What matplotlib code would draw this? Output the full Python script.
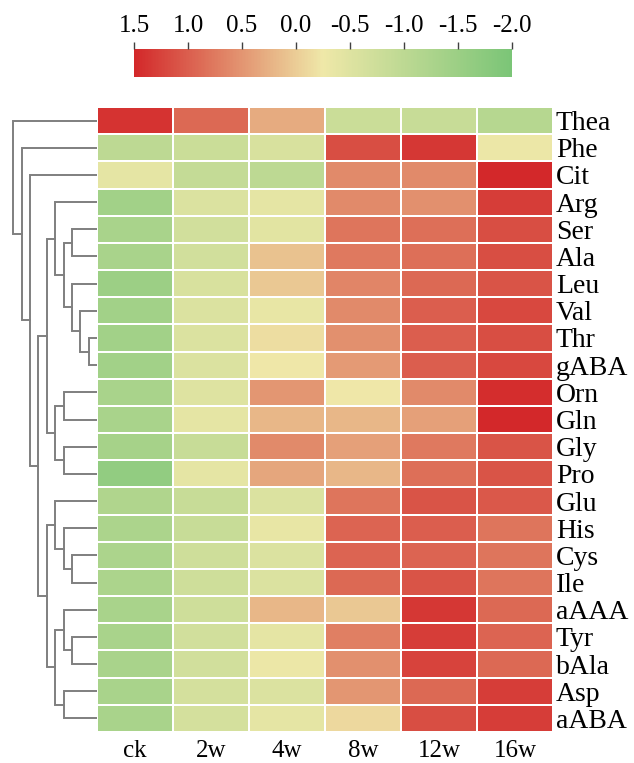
import matplotlib
matplotlib.use('Agg')
import matplotlib.pyplot as plt
import numpy as np
from matplotlib.colors import LinearSegmentedColormap, Normalize
from matplotlib.cm import ScalarMappable

plt.rcParams['font.family'] = ['Liberation Serif', 'DejaVu Serif']

rows = ['Thea', 'Phe', 'Cit', 'Arg', 'Ser', 'Ala', 'Leu', 'Val', 'Thr', 'gABA',
        'Orn', 'Gln', 'Gly', 'Pro', 'Glu', 'His', 'Cys', 'Ile', 'aAAA', 'Tyr',
        'bAla', 'Asp', 'aABA']
cols = ['ck', '2w', '4w', '8w', '12w', '16w']

# z-scores, one list per column
ck  = [1.40, -1.00, -0.40, -1.40, -1.30, -1.30, -1.50, -1.40, -1.40, -1.40,
       -1.30, -1.30, -1.35, -1.65, -1.20, -1.25, -1.25, -1.25, -1.30, -1.30,
       -1.30, -1.30, -1.30]
w2  = [0.90, -0.80, -0.90, -0.55, -0.70, -0.70, -0.60, -0.55, -0.55, -0.55,
       -0.50, -0.40, -0.85, -0.40, -0.85, -0.85, -0.75, -0.75, -0.75, -0.70,
       -0.70, -0.65, -0.65]
w4  = [0.30, -0.60, -1.00, -0.40, -0.45, 0.10, 0.05, -0.35, -0.15, -0.25,
       0.50, 0.20, 0.60, 0.35, -0.55, -0.35, -0.55, -0.55, 0.20, -0.40,
       -0.30, -0.55, -0.40]
w8  = [-0.80, 1.15, 0.60, 0.60, 0.80, 0.75, 0.65, 0.60, 0.55, 0.45,
       -0.25, 0.20, 0.40, 0.20, 0.80, 0.95, 0.95, 0.90, 0.05, 0.70,
       0.55, 0.50, -0.10]
w12 = [-0.85, 1.35, 0.60, 0.55, 0.85, 0.85, 0.90, 1.00, 1.00, 1.00,
       0.60, 0.40, 0.75, 0.85, 1.10, 1.00, 0.95, 1.10, 1.35, 1.30,
       1.25, 0.90, 1.15]
w16 = [-1.10, -0.30, 1.50, 1.30, 1.15, 1.15, 1.10, 1.20, 1.15, 1.20,
       1.45, 1.50, 1.10, 1.10, 1.05, 0.80, 0.80, 0.80, 0.90, 0.95,
       0.90, 1.30, 1.30]

# row dendrogram: (left, right, height); leaves 0..22, new nodes from 23
links = [
    (8, 9, 1), (7, 23, 2), (6, 24, 3), (4, 5, 3), (26, 25, 4), (3, 27, 5),
    (10, 11, 4), (12, 13, 4), (29, 30, 5), (28, 31, 6),
    (16, 17, 3), (15, 33, 4), (14, 34, 5), (19, 20, 3), (18, 36, 4),
    (21, 22, 4), (37, 38, 5), (35, 39, 6), (32, 40, 7), (2, 41, 8),
    (1, 42, 9), (0, 43, 10),
]

data = np.array([ck, w2, w4, w8, w12, w16]).T
n_rows = len(rows)

cmap = LinearSegmentedColormap.from_list(
    'rg', ['#7bc577', '#efe8a8', '#d3282a'])
norm = Normalize(vmin=-2.0, vmax=1.5)

W, H = 634, 763
fig = plt.figure(figsize=(W / 100, H / 100), dpi=100)

def px_axes(x0, y0, x1, y1):
    return fig.add_axes([x0 / W, 1 - y1 / H, (x1 - x0) / W, (y1 - y0) / H])

# heatmap
ax = px_axes(97, 107, 553, 732)
ax.pcolormesh(np.arange(len(cols) + 1), np.arange(n_rows + 1), data,
              cmap=cmap, norm=norm, edgecolors='white', linewidth=1.2)
ax.set_ylim(n_rows, 0)
ax.set_xlim(0, len(cols))
ax.set_xticks(np.arange(len(cols)) + 0.5)
ax.set_xticklabels(cols, fontsize=18)
ax.yaxis.tick_right()
ax.set_yticks(np.arange(n_rows) + 0.5)
ax.set_yticklabels(rows, fontsize=20)
ax.tick_params(length=0, pad=2)
ax.tick_params(axis='x', pad=6)
for s in ax.spines.values():
    s.set_visible(False)

# dendrogram
dax = px_axes(0, 107, 97, 732)
pos = {i: i + 0.5 for i in range(n_rows)}
hgt = {i: 0 for i in range(n_rows)}
for k, (a, b, h) in enumerate(links):
    node = n_rows + k
    dax.plot([hgt[a], h, h, hgt[b]], [pos[a], pos[a], pos[b], pos[b]],
             color='#7f7f7f', linewidth=1.4, solid_joinstyle='miter')
    pos[node] = (pos[a] + pos[b]) / 2
    hgt[node] = h
dax.set_xlim(11.59, 0)
dax.set_ylim(n_rows, 0)
dax.axis('off')

# colorbar
cax = px_axes(134.3, 49.3, 511.5, 76.7)
cb = fig.colorbar(ScalarMappable(norm=norm, cmap=cmap), cax=cax,
                  orientation='horizontal')
cax.invert_xaxis()
cb.set_ticks([1.5, 1.0, 0.5, 0.0, -0.5, -1.0, -1.5, -2.0])
cb.set_ticklabels(['1.5', '1.0', '0.5', '0.0', '-0.5', '-1.0', '-1.5', '-2.0'])
cax.xaxis.set_ticks_position('top')
cax.tick_params(length=5, width=1, color='#404040', labelsize=18, pad=4)
cb.outline.set_visible(False)

fig.savefig('out.png', dpi=100)
